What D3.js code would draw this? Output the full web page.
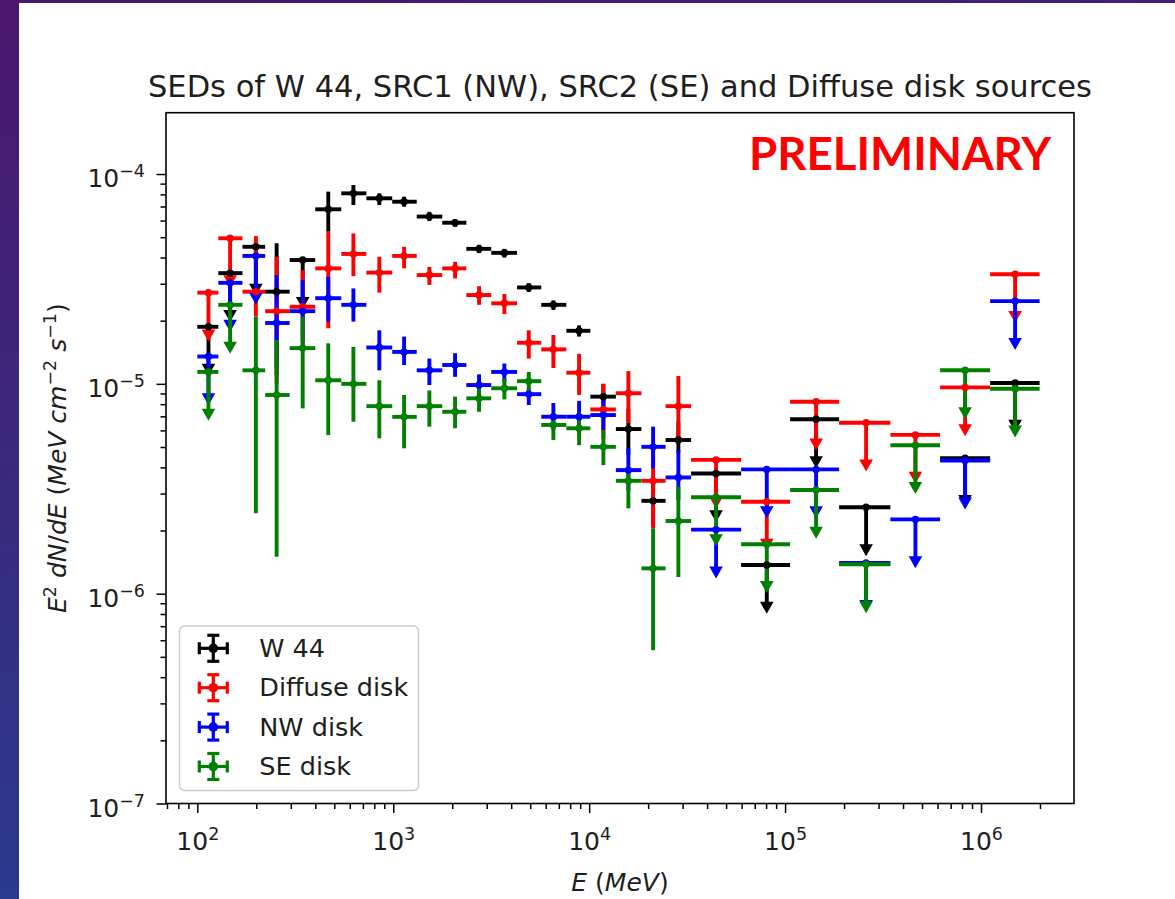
<!DOCTYPE html>
<html>
<head>
<meta charset="utf-8">
<script src="https://cdn.jsdelivr.net/npm/d3@7"></script>
<style>
  body { margin: 0; background: #fff; }
  svg { display: block; }
  .lbl { font-family: "DejaVu Sans", sans-serif; font-size: 25px; fill: #1e1e1e; }
  .tick line { stroke: #000; stroke-width: 1.5; }
</style>
</head>
<body>
<div id="chart"></div>
<script>
// Centres of the energy bins (MeV) and the bin edges
const energy = [114, 147, 199, 254, 345, 466, 626, 849, 1136, 1529, 2068, 2741, 3692, 4917,
    6567, 8882, 11818, 15853, 21200, 28530, 44440, 80640, 143980, 259100, 462700, 829500, 1493000]
const binEdges = [100, 128, 170, 222, 296, 400, 543, 729, 988, 1318, 1779, 2361, 3164, 4285,
    5694, 7647, 10141, 13686, 18476, 24547, 33130, 59640, 106050, 188700, 344700, 618300, 1113000, 1991000]

// E^2 dN/dE (MeV cm-2 s-1); lo/hi = null means the point is an upper limit
const w44Flux = [1.87e-5, 3.37e-5, 4.5e-5, 2.75e-5, 3.89e-5, 6.79e-5, 8.09e-5, 7.66e-5, 7.38e-5, 6.27e-5,
    5.86e-5, 4.4e-5, 4.21e-5, 2.88e-5, 2.38e-5, 1.79e-5, 8.69e-6, 6.09e-6, 2.77e-6, 5.4e-6,
    3.74e-6, 1.37e-6, 6.78e-6, 2.58e-6, null, 4.42e-6, 1.01e-5]
const w44Lo = [null, null, null, 1.1e-5, null, 5.31e-5, 7.12e-5, 7.12e-5, 6.98e-5, 5.97e-5,
    5.6e-5, 4.2e-5, 4.0e-5, 2.74e-5, 2.25e-5, 1.68e-5, 7.93e-6, 4.6e-6, 2.1e-6, 4.7e-6,
    null, null, null, null, null, null, null]
const w44Hi = [null, null, null, 4.68e-5, null, 8.24e-5, 8.86e-5, 8.09e-5, 7.8e-5, 6.6e-5,
    6.1e-5, 4.6e-5, 4.4e-5, 3.02e-5, 2.5e-5, 1.9e-5, 1.0e-5, 7.6e-6, 3.4e-6, 6.6e-6,
    null, null, null, null, null, null, null]

const diffuseFlux = [2.72e-5, 4.94e-5, 2.75e-5, 2.22e-5, 2.33e-5, 3.55e-5, 4.16e-5, 3.39e-5, 4.07e-5, 3.3e-5,
    3.55e-5, 2.65e-5, 2.42e-5, 1.57e-5, 1.46e-5, 1.13e-5, 7.55e-6, 9.02e-6, 3.45e-6, 7.83e-6,
    4.34e-6, 2.74e-6, 8.22e-6, 6.53e-6, 5.71e-6, 9.62e-6, 3.33e-5]
const diffuseLo = [null, null, 2.09e-5, 1.0e-5, 1.5e-5, 1.84e-5, 3.26e-5, 2.72e-5, 3.55e-5, 2.96e-5,
    3.18e-5, 2.38e-5, 2.15e-5, 1.32e-5, 1.19e-5, 8.85e-6, 5.5e-6, 6.49e-6, 2.05e-6, 5.4e-6,
    null, null, null, null, null, null, null]
const diffuseHi = [null, null, 5.06e-5, 4.03e-5, 3.48e-5, 5.31e-5, 5.21e-5, 4.03e-5, 4.5e-5, 3.61e-5,
    3.82e-5, 2.92e-5, 2.68e-5, 1.8e-5, 1.71e-5, 1.39e-5, 1.0e-5, 1.15e-5, 4.9e-6, 1.09e-5,
    null, null, null, null, null, null, null]

const nwFlux = [1.35e-5, 3.03e-5, 4.07e-5, 1.95e-5, 2.22e-5, 2.56e-5, 2.38e-5, 1.49e-5, 1.42e-5, 1.16e-5,
    1.23e-5, 9.87e-6, 1.14e-5, 8.93e-6, 6.97e-6, 6.97e-6, 7.1e-6, 3.88e-6, 5.01e-6, 3.58e-6,
    2.02e-6, 3.91e-6, 3.91e-6, 1.4e-6, 2.26e-6, 4.31e-6, 2.48e-5]
const nwLo = [null, null, null, 1.2e-5, 1.6e-5, 1.98e-5, 1.98e-5, 1.16e-5, 1.23e-5, 9.87e-6,
    1.08e-5, 8.53e-6, 1.02e-5, 7.93e-6, 6.03e-6, 5.81e-6, 6.03e-6, 3.1e-6, 3.95e-6, 2.8e-6,
    null, null, null, null, null, null, null]
const nwHi = [null, null, null, 3.3e-5, 3.13e-5, 3.24e-5, 2.85e-5, 1.8e-5, 1.68e-5, 1.32e-5,
    1.4e-5, 1.11e-5, 1.25e-5, 9.53e-6, 8.1e-6, 8.3e-6, 8.38e-6, 4.93e-6, 6.25e-6, 4.83e-6,
    null, null, null, null, null, null, null]

const seFlux = [1.14e-5, 2.38e-5, 1.16e-5, 8.85e-6, 1.48e-5, 1.04e-5, 1.0e-5, 7.83e-6, 6.96e-6, 7.83e-6,
    7.36e-6, 8.53e-6, 9.53e-6, 1.03e-5, 6.37e-6, 6.14e-6, 5.01e-6, 3.45e-6, 1.32e-6, 2.22e-6,
    2.88e-6, 1.72e-6, 3.12e-6, 1.38e-6, 5.1e-6, 1.16e-5, 9.48e-6]
const seLo = [null, null, 2.42e-6, 1.5e-6, 7.64e-6, 5.7e-6, 6.6e-6, 5.5e-6, 4.93e-6, 6.25e-6,
    6.14e-6, 7.36e-6, 8.43e-6, 9.17e-6, 5.4e-6, 5.1e-6, 4.1e-6, 2.55e-6, 5.38e-7, 1.2e-6,
    null, null, null, null, null, null, null]
const seHi = [null, null, 2.09e-5, 1.62e-5, 2.09e-5, 1.56e-5, 1.5e-5, 1.04e-5, 8.85e-6, 9.3e-6,
    8.69e-6, 9.53e-6, 1.06e-5, 1.14e-5, 6.97e-6, 7.3e-6, 6.03e-6, 4.0e-6, 2.05e-6, 3.24e-6,
    null, null, null, null, null, null, null]

const seriesNames = ["W 44", "Diffuse disk", "NW disk", "SE disk"]
const seriesColors = ["#000000", "#ff0000", "#0000ff", "#008000"]

const xTicks = [1e2, 1e3, 1e4, 1e5, 1e6]
const yTicks = [1e-7, 1e-6, 1e-5, 1e-4]

const title = "SEDs of W 44, SRC1 (NW), SRC2 (SE) and Diffuse disk sources"

const series = [
    { flux: w44Flux, lo: w44Lo, hi: w44Hi },
    { flux: diffuseFlux, lo: diffuseLo, hi: diffuseHi },
    { flux: nwFlux, lo: nwLo, hi: nwHi },
    { flux: seFlux, lo: seLo, hi: seHi }
].map((s, k) => ({
    name: seriesNames[k],
    color: seriesColors[k],
    points: energy.map((e, i) => ({
        e, e0: binEdges[i], e1: binEdges[i + 1],
        v: s.flux[i], lo: s.lo[i], hi: s.hi[i],
        ul: s.lo[i] === null
    })).filter(d => d.v !== null)
}))

const W = 1175, H = 899
const plot = { left: 166, right: 1074, top: 112.7, bottom: 803.5 }
const lw = 3.9, markerR = 3.7, ulFrac = 0.66

const svg = d3.select("#chart").append("svg")
    .attr("width", W)
    .attr("height", H)

// slide background behind the picture
const grad = svg.append("defs").append("linearGradient")
    .attr("id", "slide").attr("x1", 0).attr("y1", 0).attr("x2", 0.25).attr("y2", 1)
grad.append("stop").attr("offset", 0).attr("stop-color", "#4a176c")
grad.append("stop").attr("offset", 1).attr("stop-color", "#283c90")
svg.append("rect").attr("width", W).attr("height", H).attr("fill", "url(#slide)")
svg.append("rect").attr("x", 19).attr("y", 3).attr("width", W - 19).attr("height", H - 3).attr("fill", "#fff")

const x = d3.scaleLog().domain([69.2, 2.983e6]).range([plot.left, plot.right])
const y = d3.scaleLog().domain([1e-7, 1.96e-4]).range([plot.bottom, plot.top])

const minors = (dom) => {
    const out = []
    for (let p = Math.floor(Math.log10(dom[0])); p <= Math.ceil(Math.log10(dom[1])); p++)
        for (let m = 2; m <= 9; m++) {
            const v = m * Math.pow(10, p)
            if (v >= dom[0] && v <= dom[1]) out.push(v)
        }
    return out
}

// exponent label like 10^-4
function powLabel(sel, d) {
    const p = Math.round(Math.log10(d))
    sel.append("tspan").text("10")
    sel.append("tspan").attr("dy", -10).attr("font-size", 17.5).text(p < 0 ? "\u2212" + (-p) : p)
}

// X axis
svg.append("g")
    .attr("transform", "translate(0," + plot.bottom + ")")
    .call(d3.axisBottom(x).tickValues(minors(x.domain())).tickSize(5.5).tickFormat(""))
    .call(g => g.select(".domain").remove())
const xMaj = svg.append("g")
    .attr("transform", "translate(0," + plot.bottom + ")")
    .call(d3.axisBottom(x).tickValues(xTicks).tickSize(9.5).tickFormat(""))
    .call(g => g.select(".domain").remove())
xMaj.selectAll(".tick text").remove()
xMaj.selectAll(".tick").append("text")
    .attr("class", "lbl")
    .attr("y", 46.5)
    .attr("text-anchor", "middle")
    .each(function (d) { powLabel(d3.select(this), d) })

// Y axis
svg.append("g")
    .attr("transform", "translate(" + plot.left + ",0)")
    .call(d3.axisLeft(y).tickValues(minors(y.domain())).tickSize(5.5).tickFormat(""))
    .call(g => g.select(".domain").remove())
const yMaj = svg.append("g")
    .attr("transform", "translate(" + plot.left + ",0)")
    .call(d3.axisLeft(y).tickValues(yTicks).tickSize(9.5).tickFormat(""))
    .call(g => g.select(".domain").remove())
yMaj.selectAll(".tick text").remove()
yMaj.selectAll(".tick").append("text")
    .attr("class", "lbl")
    .attr("x", -21)
    .attr("y", 12.5)
    .attr("text-anchor", "end")
    .each(function (d) { powLabel(d3.select(this), d) })

// frame
svg.append("rect")
    .attr("x", plot.left).attr("y", plot.top)
    .attr("width", plot.right - plot.left).attr("height", plot.bottom - plot.top)
    .attr("fill", "none").attr("stroke", "#000").attr("stroke-width", 1.6)

// title and axis labels
svg.append("text").attr("class", "lbl")
    .attr("x", (plot.left + plot.right) / 2).attr("y", 96.5)
    .attr("text-anchor", "middle").style("font-size", "30.5px")
    .text(title)

const xl = svg.append("text").attr("class", "lbl")
    .attr("x", (plot.left + plot.right) / 2).attr("y", 891)
    .attr("text-anchor", "middle")
xl.append("tspan").attr("font-style", "italic").text("E")
xl.append("tspan").text(" (")
xl.append("tspan").attr("font-style", "italic").text("MeV")
xl.append("tspan").text(")")

const yl = svg.append("text").attr("class", "lbl")
    .attr("transform", "translate(66," + ((plot.top + plot.bottom) / 2) + ") rotate(-90)")
    .attr("text-anchor", "middle")
const ylParts = [["E", 1], ["2", 0, -10], [" ", 0, 10], ["dN", 1], ["/", 0], ["dE", 1], [" (", 0],
    ["MeV cm", 1], ["\u22122", 0, -10], [" ", 0, 10], ["s", 1], ["\u22121", 0, -10], [")", 0, 10]]
ylParts.forEach(([t, it, dy]) => {
    const ts = yl.append("tspan").text(t)
    if (it) ts.attr("font-style", "italic")
    if (dy) ts.attr("dy", dy)
    if (dy === -10) ts.attr("font-size", 17.5)
})

// data layer: bars and caps first, markers on top
const plotG = svg.append("g")
series.forEach(s => {
    const g = plotG.append("g").attr("stroke", s.color).attr("fill", s.color)
    g.selectAll("line.h").data(s.points).join("line")
        .attr("x1", d => x(d.e0)).attr("x2", d => x(d.e1))
        .attr("y1", d => y(d.v)).attr("y2", d => y(d.v))
        .attr("stroke-width", lw)
    g.selectAll("line.v").data(s.points).join("line")
        .attr("x1", d => x(d.e)).attr("x2", d => x(d.e))
        .attr("y1", d => y(d.ul ? d.v : d.hi))
        .attr("y2", d => y(d.ul ? d.v * ulFrac : d.lo))
        .attr("stroke-width", lw)
    g.selectAll("path.ul").data(s.points.filter(d => d.ul)).join("path")
        .attr("stroke", "none")
        .attr("d", d => {
            const cx = x(d.e), cy = y(d.v * ulFrac)
            return "M" + (cx - 6.8) + "," + (cy - 1) + "L" + (cx + 6.8) + "," + (cy - 1) + "L" + cx + "," + (cy + 11) + "Z"
        })
})
series.forEach(s => {
    plotG.append("g").selectAll("circle").data(s.points).join("circle")
        .attr("cx", d => x(d.e)).attr("cy", d => y(d.v))
        .attr("r", markerR).attr("fill", s.color)
})

// legend
const leg = svg.append("g")
leg.append("rect")
    .attr("x", 179.5).attr("y", 626).attr("width", 239).attr("height", 164.5).attr("rx", 5)
    .attr("fill", "#fff").attr("fill-opacity", 0.8).attr("stroke", "#cccccc").attr("stroke-width", 1.5)
series.forEach((s, k) => {
    const cy = 648.3 + k * 39.4, cx = 213.3
    const g = leg.append("g").attr("stroke", s.color).attr("stroke-width", 3.2)
    g.append("line").attr("x1", cx - 14).attr("x2", cx + 14).attr("y1", cy).attr("y2", cy)
    g.append("line").attr("x1", cx).attr("x2", cx).attr("y1", cy - 13).attr("y2", cy + 13)
    g.append("line").attr("x1", cx - 14).attr("x2", cx - 14).attr("y1", cy - 6).attr("y2", cy + 6)
    g.append("line").attr("x1", cx + 14).attr("x2", cx + 14).attr("y1", cy - 6).attr("y2", cy + 6)
    g.append("line").attr("x1", cx - 6).attr("x2", cx + 6).attr("y1", cy - 13).attr("y2", cy - 13)
    g.append("line").attr("x1", cx - 6).attr("x2", cx + 6).attr("y1", cy + 13).attr("y2", cy + 13)
    g.append("circle").attr("cx", cx).attr("cy", cy).attr("r", 4.8).attr("fill", s.color).attr("stroke", "none")
    leg.append("text").attr("class", "lbl")
        .attr("x", 259.3).attr("y", cy + 8.5)
        .style("font-size", "25.5px")
        .text(s.name)
})

// overlay stamp
svg.append("text")
    .attr("x", 749).attr("y", 170)
    .attr("textLength", 302).attr("lengthAdjust", "spacingAndGlyphs")
    .style("font-family", "Lato, 'Liberation Sans', sans-serif")
    .style("font-weight", 700).style("font-size", "46px").style("fill", "#ff0000")
    .text("PRELIMINARY")
</script>
</body>
</html>
